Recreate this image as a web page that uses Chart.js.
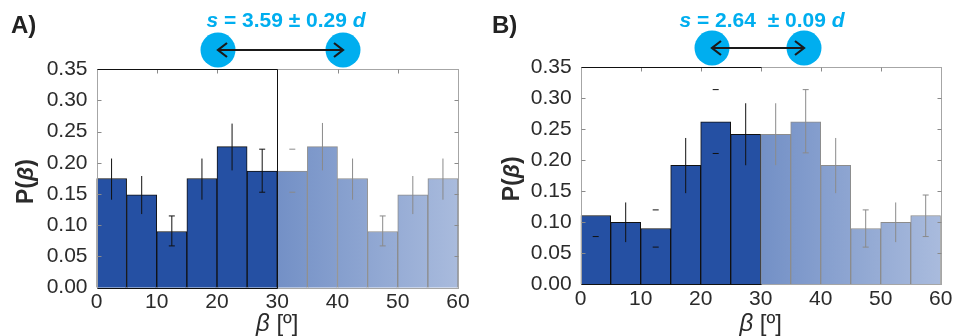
<!DOCTYPE html>
<html lang="en">
<head>
<meta charset="UTF-8">
<title>P(β) histograms</title>
<style>
  body { margin: 0; background: #fff; font-family: "Liberation Sans", Arial, sans-serif; }
  .panel { position: absolute; top: 0; width: 477px; height: 336px; }
</style>
</head>
<body>
<div class="panel" style="left:0"><canvas id="chartA" width="477" height="336"></canvas></div>
<div class="panel" style="left:477px"><canvas id="chartB" width="477" height="336"></canvas></div>

<script src="https://cdn.jsdelivr.net/npm/chart.js"></script>
<script>
// bin centres (5 deg bins, 0..60)
const binCenters = [2.5, 7.5, 12.5, 17.5, 22.5, 27.5, 32.5, 37.5, 42.5, 47.5, 52.5, 57.5];
const xTicks = [0, 10, 20, 30, 40, 50, 60];

// panel A
const probA    = [0.175, 0.149, 0.090, 0.175, 0.226, 0.187, 0.187, 0.226, 0.175, 0.090, 0.149, 0.175];
const errLowA  = [0.141, 0.118, 0.067, 0.141, 0.188, 0.153, 0.153, 0.188, 0.141, 0.067, 0.118, 0.141];
const errHighA = [0.207, 0.179, 0.115, 0.207, 0.263, 0.222, 0.222, 0.264, 0.207, 0.115, 0.179, 0.207];
const errStyleA = ['stem', 'stem', 'capped', 'stem', 'stem', 'capped', 'caps', 'stem', 'stem', 'capped', 'stem', 'stem'];

// panel B
const probB    = [0.111, 0.100, 0.090, 0.192, 0.262, 0.242, 0.242, 0.262, 0.192, 0.090, 0.100, 0.111];
const errLowB  = [0.077, 0.068, 0.060, 0.147, 0.211, 0.192, 0.192, 0.212, 0.147, 0.060, 0.068, 0.077];
const errHighB = [0.144, 0.132, 0.120, 0.236, 0.314, 0.292, 0.292, 0.314, 0.236, 0.120, 0.132, 0.144];
const errStyleB = ['low', 'stem', 'caps', 'stem', 'caps', 'stem', 'stem', 'capped', 'stem', 'capped', 'stem', 'capped'];

const darkBlue = '#2550a3';
const cyan = '#00aeef';
const textCol = '#2b2b2b';
const FONT = '"Liberation Sans", Arial, sans-serif';

// error bars drawn on top of the bars
const errorBars = {
  id: 'errorBars',
  afterDatasetsDraw(chart, args, opts) {
    const ctx = chart.ctx, y = chart.scales.y;
    const bars = chart.getDatasetMeta(0).data;
    ctx.save();
    ctx.lineWidth = 1;
    bars.forEach((bar, i) => {
      const st = opts.style[i];
      const yl = y.getPixelForValue(opts.low[i]);
      const yh = y.getPixelForValue(opts.high[i]);
      ctx.strokeStyle = binCenters[i] < 30 ? '#111' : '#8a8a8a';
      ctx.beginPath();
      if (st !== 'caps' && st !== 'low') {
        ctx.moveTo(bar.x, yl); ctx.lineTo(bar.x, yh);
      }
      if (st === 'capped' || st === 'caps') {
        ctx.moveTo(bar.x - 3, yl); ctx.lineTo(bar.x + 3, yl);
        ctx.moveTo(bar.x - 3, yh); ctx.lineTo(bar.x + 3, yh);
      }
      if (st === 'low') {
        ctx.moveTo(bar.x - 3, yl); ctx.lineTo(bar.x + 3, yl);
      }
      ctx.stroke();
    });
    ctx.restore();
  }
};

// axes box, inner ticks, axis titles and the spacing annotation
const decorations = {
  id: 'decorations',
  afterDraw(chart, args, opts) {
    const ctx = chart.ctx, a = chart.chartArea;
    const x = chart.scales.x, y = chart.scales.y;
    const x30 = Math.round(x.getPixelForValue(30)) + 0.5;
    const L = Math.round(a.left) + 0.5, R = Math.round(a.right) + 0.5;
    const T = Math.round(a.top) + 0.5, B = Math.round(a.bottom) + 0.5;
    ctx.save();
    ctx.lineWidth = 1;
    // grey box
    ctx.strokeStyle = '#a6a6a6';
    ctx.strokeRect(L, T, R - L, B - T);
    // inner ticks
    ctx.strokeStyle = '#8a8a8a';
    ctx.beginPath();
    for (let v = 0.05; v < 0.35; v += 0.05) {
      const py = Math.round(y.getPixelForValue(v)) + 0.5;
      ctx.moveTo(R, py); ctx.lineTo(R - 4, py);
      ctx.moveTo(L, py); ctx.lineTo(L + 4, py);
    }
    xTicks.slice(1, -1).forEach(v => {
      const px = Math.round(x.getPixelForValue(v)) + 0.5;
      ctx.moveTo(px, T); ctx.lineTo(px, T + 4);
    });
    ctx.stroke();
    // dark edges over the first half
    ctx.strokeStyle = '#111';
    ctx.beginPath();
    ctx.moveTo(L, T); ctx.lineTo(x30, T);
    ctx.moveTo(L, B); ctx.lineTo(x30, B);
    if (opts.divider) { ctx.moveTo(x30, T); ctx.lineTo(x30, B); }
    ctx.stroke();

    // panel letter
    ctx.fillStyle = '#222';
    ctx.font = 'bold 24px ' + FONT;
    ctx.textBaseline = 'alphabetic';
    ctx.textAlign = 'left';
    ctx.fillText(opts.letter, opts.letterX, 33);

    // y title P(β)
    ctx.save();
    ctx.translate(opts.yTitleX, (a.top + a.bottom) / 2 + 3);
    ctx.rotate(-Math.PI / 2);
    drawRuns(ctx, [['P(', 'bold'], ['β', 'italic bold'], [')', 'bold']], 23, 0, 0, textCol);
    ctx.restore();

    // x title β [º]
    drawRuns(ctx, [['β', 'italic'], [' [º]', '']], 24, (a.left + a.right) / 2, 331, textCol);

    // two discs joined by a double arrow
    const cy = opts.discY, r = 17.5;
    ctx.fillStyle = cyan;
    [opts.discL, opts.discR].forEach(cx => {
      ctx.beginPath(); ctx.arc(cx, cy, r, 0, Math.PI * 2); ctx.fill();
    });
    ctx.strokeStyle = '#1a1a1a';
    ctx.lineWidth = 2.2;
    ctx.lineJoin = 'miter';
    ctx.beginPath();
    ctx.moveTo(opts.discL, cy); ctx.lineTo(opts.discR, cy);
    ctx.moveTo(opts.discL + 9, cy - 7); ctx.lineTo(opts.discL, cy); ctx.lineTo(opts.discL + 9, cy + 7);
    ctx.moveTo(opts.discR - 9, cy - 7); ctx.lineTo(opts.discR, cy); ctx.lineTo(opts.discR - 9, cy + 7);
    ctx.stroke();

    // s = ... d
    drawRuns(ctx, [['s', 'italic bold'], [' = ' + opts.spacing + ' ', 'bold'], ['d', 'italic bold']],
      21, opts.textX, 27, cyan);
    ctx.restore();
  }
};

// centred text made of runs with different font styles
function drawRuns(ctx, runs, size, cx, baseline, color) {
  let w = 0;
  runs.forEach(([t, s]) => { ctx.font = (s + ' ' + size + 'px ' + FONT).trim(); w += ctx.measureText(t).width; });
  let px = cx - w / 2;
  ctx.fillStyle = color;
  ctx.textAlign = 'left';
  ctx.textBaseline = 'alphabetic';
  runs.forEach(([t, s]) => {
    ctx.font = (s + ' ' + size + 'px ' + FONT).trim();
    ctx.fillText(t, px, baseline);
    px += ctx.measureText(t).width;
  });
}

function makeChart(id, probs, low, high, style, area, deco) {
  return new Chart(document.getElementById(id), {
    type: 'bar',
    data: {
      datasets: [{
        data: binCenters.map((c, i) => ({ x: c, y: probs[i] })),
        backgroundColor: ctx => {
          const chart = ctx.chart;
          if (ctx.dataIndex === undefined || binCenters[ctx.dataIndex] < 30 || !chart.chartArea) return darkBlue;
          const xs = chart.scales.x;
          const g = chart.ctx.createLinearGradient(xs.getPixelForValue(30), 0, xs.getPixelForValue(60), 0);
          g.addColorStop(0, '#7390c6');
          g.addColorStop(1, '#a9bbdd');
          return g;
        },
        borderColor: ctx => binCenters[ctx.dataIndex] < 30 ? '#111' : '#8c8c8c',
        borderWidth: 1,
        barPercentage: 1,
        categoryPercentage: 1
      }]
    },
    options: {
      responsive: false,
      animation: false,
      layout: { padding: { left: 0, right: 477 - area.right, top: area.top, bottom: 0 } },
      plugins: {
        legend: { display: false },
        tooltip: { enabled: false },
        errorBars: { low, high, style },
        decorations: deco
      },
      scales: {
        x: {
          type: 'linear', min: 0, max: 60, offset: false,
          afterBuildTicks: s => { s.ticks = xTicks.map(v => ({ value: v })); },
          afterFit: s => { s.height = 336 - area.bottom; },
          grid: { display: false }, border: { display: false },
          ticks: { color: textCol, font: { family: FONT, size: 21 }, padding: -6, maxRotation: 0 }
        },
        y: {
          min: 0, max: 0.35,
          afterFit: s => { s.width = area.left; },
          grid: { display: false }, border: { display: false },
          ticks: { stepSize: 0.05, color: textCol, font: { family: FONT, size: 21 }, padding: 1,
                   callback: v => v.toFixed(2) }
        }
      }
    },
    plugins: [errorBars, decorations]
  });
}

makeChart('chartA', probA, errLowA, errHighA, errStyleA,
  { left: 96.5, right: 458, top: 69.3, bottom: 287.7 },
  { letter: 'A)', letterX: 11, yTitleX: 33, divider: true, spacing: '3.59 ± 0.29',
    textX: 286, discL: 218, discR: 343, discY: 50 });

makeChart('chartB', probB, errLowB, errHighB, errStyleB,
  { left: 103.7, right: 463.7, top: 67.3, bottom: 284.3 },
  { letter: 'B)', letterX: 15, yTitleX: 42, divider: false, spacing: '2.64  ± 0.09',
    textX: 285, discL: 235, discR: 327, discY: 48 });
</script>
</body>
</html>
